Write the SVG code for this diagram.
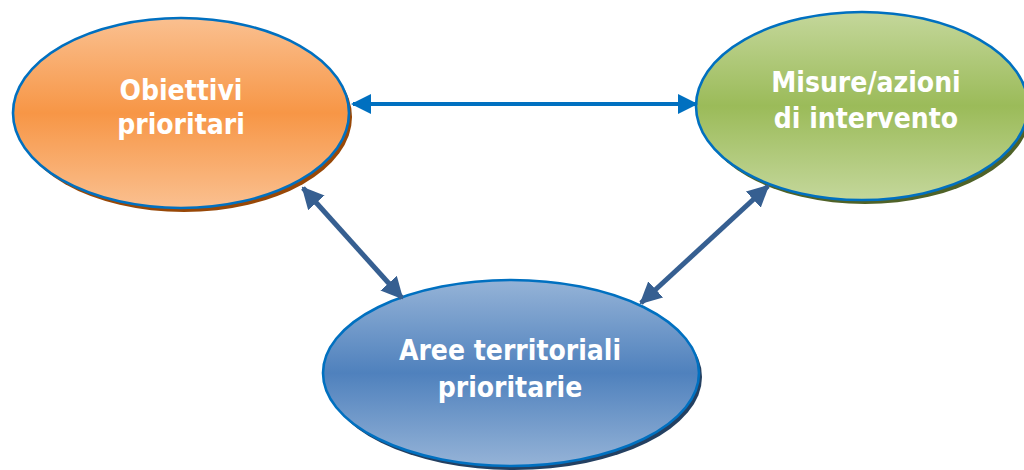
<svg xmlns="http://www.w3.org/2000/svg" width="1024" height="470" viewBox="0 0 1024 470">
<style>
.t{font-family:"DejaVu Sans Condensed","DejaVu Sans","Liberation Sans",sans-serif;font-stretch:condensed;font-weight:bold;font-size:28px;fill:#fff;text-anchor:middle}
.el{stroke:#0070c0;stroke-width:2.6}
</style>
<defs>
<linearGradient id="go" x1="0" y1="0" x2="0" y2="1">
<stop offset="0" stop-color="#fac090"/><stop offset="0.5" stop-color="#f79646"/><stop offset="1" stop-color="#fac090"/>
</linearGradient>
<linearGradient id="gg" x1="0" y1="0" x2="0" y2="1">
<stop offset="0" stop-color="#c4d79b"/><stop offset="0.5" stop-color="#9bbb59"/><stop offset="1" stop-color="#c4d79b"/>
</linearGradient>
<linearGradient id="gb" x1="0" y1="0" x2="0" y2="1">
<stop offset="0" stop-color="#95b3d7"/><stop offset="0.5" stop-color="#4f81bd"/><stop offset="1" stop-color="#95b3d7"/>
</linearGradient>
<marker id="ah1" markerWidth="5" markerHeight="5" refX="4.5" refY="2.5" orient="auto-start-reverse" markerUnits="strokeWidth">
<path d="M0,0 L5,2.5 L0,5 Z" fill="#0070c0"/>
</marker>
<marker id="ah2" markerWidth="4.4" markerHeight="4.4" refX="4" refY="2.2" orient="auto-start-reverse" markerUnits="strokeWidth">
<path d="M0,0 L4.4,2.2 L0,4.4 Z" fill="#365f91"/>
</marker>
</defs>
<g id="node-obiettivi">
<ellipse cx="184" cy="117" rx="168" ry="95" fill="#984807"/>
<ellipse class="el" cx="181" cy="113" rx="168" ry="95" fill="url(#go)"/>
<text class="t" x="181" y="100">Obiettivi</text>
<text class="t" x="181" y="134">prioritari</text>
</g>
<g id="node-misure">
<ellipse cx="865" cy="110" rx="166" ry="94" fill="#4f6228"/>
<ellipse class="el" cx="862" cy="106" rx="166" ry="94" fill="url(#gg)"/>
<text class="t" x="866" y="92">Misure/azioni</text>
<text class="t" x="866" y="128">di intervento</text>
</g>
<g id="node-aree">
<ellipse cx="514" cy="377" rx="188" ry="93" fill="#244061"/>
<ellipse class="el" cx="511" cy="373" rx="188" ry="93" fill="url(#gb)"/>
<text class="t" x="510" y="360">Aree territoriali</text>
<text class="t" x="510" y="397">prioritarie</text>
</g>
<g id="connectors">
<line x1="353" y1="104" x2="696" y2="104" stroke="#0070c0" stroke-width="4" marker-start="url(#ah1)" marker-end="url(#ah1)"/>
<line x1="303" y1="188" x2="402" y2="298" stroke="#365f91" stroke-width="5" marker-start="url(#ah2)" marker-end="url(#ah2)"/>
<line x1="768" y1="186" x2="641" y2="303" stroke="#365f91" stroke-width="5" marker-start="url(#ah2)" marker-end="url(#ah2)"/>
</g>
</svg>
